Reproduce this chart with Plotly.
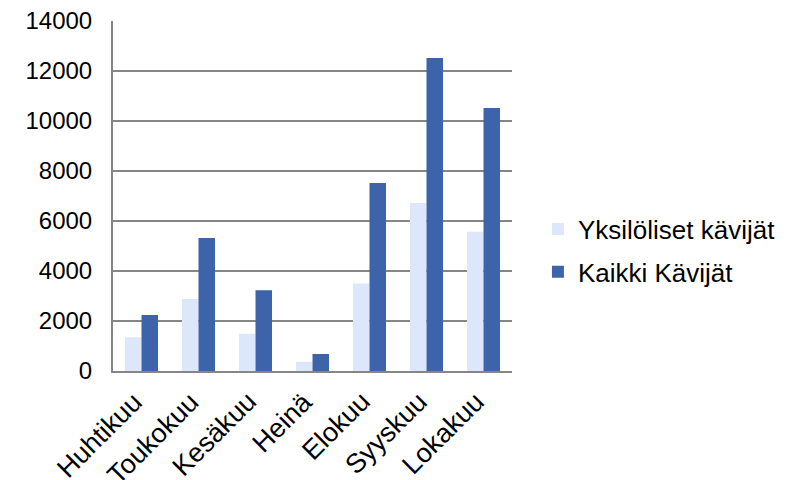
import plotly.graph_objects as go

months = ["Huhtikuu", "Toukokuu", "Kesäkuu", "Heinä", "Elokuu", "Syyskuu", "Lokakuu"]
yksiloliset = [1350, 2880, 1490, 370, 3500, 6720, 5570]
kaikki = [2240, 5320, 3230, 680, 7520, 12520, 10520]
y_ticks = [0, 2000, 4000, 6000, 8000, 10000, 12000, 14000]

font = "Liberation Sans, Arial, sans-serif"

fig = go.Figure()
fig.add_trace(go.Bar(x=months, y=yksiloliset, name="Yksilöliset kävijät",
                     marker=dict(color="#DCE7FB", line=dict(width=0)),
                     legendgroup="a"))
fig.add_trace(go.Bar(x=months, y=kaikki, name="Kaikki Kävijät",
                     marker=dict(color="#3D64AA", line=dict(width=0)),
                     legendgroup="b"))

# category labels, rotated, placed under each category
for m in months:
    fig.add_annotation(x=m, xref="x", y=0, yref="y", text=m,
                       textangle=-45, showarrow=False,
                       xanchor="right", yanchor="top",
                       xshift=8, yshift=-14, borderpad=0,
                       font=dict(family=font, size=27, color="#000000"))

# page body has an 8px margin, so the figure is sized to fit the window
fig.update_layout(
    width=784, height=472,
    margin=dict(l=105, r=280, t=13, b=109, autoexpand=False),
    paper_bgcolor="white", plot_bgcolor="white",
    barmode="group", bargap=0.42, bargroupgap=0,
    font=dict(family=font, size=24, color="#000000"),
    showlegend=True,
    legend=dict(x=1.065, xanchor="left", y=0.344, yanchor="middle",
                font=dict(family=font, size=26, color="#000000"),
                traceorder="grouped", tracegroupgap=6,
                bgcolor="rgba(0,0,0,0)"),
    xaxis=dict(type="category", categoryorder="array", categoryarray=months,
               range=[-0.5, len(months) - 0.5], autorange=False,
               showline=True, linecolor="#868686", linewidth=2,
               ticks="", showgrid=False, automargin=False,
               showticklabels=False),
    yaxis=dict(range=[0, 14000], autorange=False, tickvals=y_ticks,
               tickformat="d",
               showline=True, automargin=False,
               linecolor="#868686", linewidth=2, showgrid=True,
               gridcolor="#868686", gridwidth=1.5, ticks="",
               zeroline=False, ticklabelstandoff=14,
               ticklabeloverflow="allow",
               tickfont=dict(family=font, size=24, color="#000000")),
)

fig.write_html("out.html")
